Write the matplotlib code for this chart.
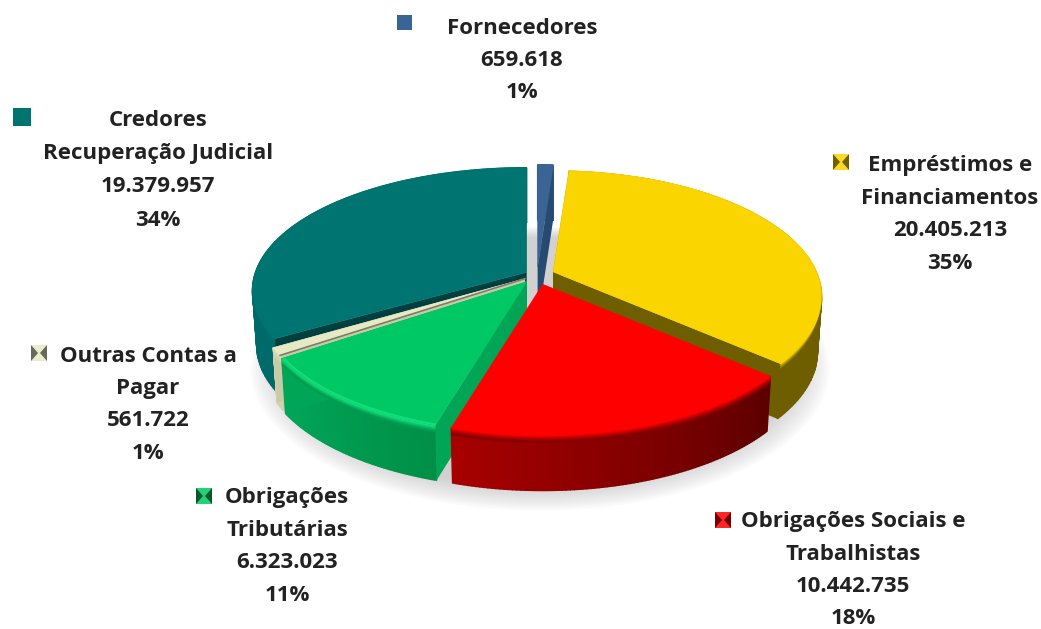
import matplotlib
matplotlib.use('Agg')
import matplotlib.pyplot as plt
import matplotlib.colors as mc
import numpy as np

# -- data --------------------------------------------------
categories = ['Fornecedores', 'Empréstimos e\nFinanciamentos', 'Obrigações Sociais e\nTrabalhistas',
              'Obrigações\nTributárias', 'Outras Contas a\nPagar', 'Credores\nRecuperação Judicial']
values = [659618, 20405213, 10442735, 6323023, 561722, 19379957]
explode = [0.066, 0.066, 0.078, 0.066, 0.054, 0.045]

# -- style per slice ---------------------------------------
top_c = ['#3a6494', '#fbd500', '#ff0000', '#00c864', '#e6e9c4', '#007470']
cut_c = ['#274a70', '#6e5e00', None, '#00a555', '#c8cba6', '#003f40']
wall_a = ['#2c5380', '#6e5e00', '#5c0000', '#008f47', '#d0d3ae', '#006a6a']  # clockwise start
wall_b = ['#2c5380', '#6e5e00', '#a80000', '#00a85a', '#d0d3ae', '#006a6a']  # clockwise end
rim_c = ['#3a6494', '#fbd500', '#ff0000', '#1cf088', '#e6e9c4', '#007470']

# label layout: x centre, first line y, line spacing, key x, key y, key size
label_x = [522, 950, 853, 287, 148, 158]
label_y = [29, 166, 522, 498, 356, 121]
label_dy = [32, 32.5, 32, 32.5, 32.5, 33]
key_x = [404, 841, 723, 204, 39, 22]
key_y = [22, 162, 520, 496, 353, 117]
key_s = [15, 16, 16, 16, 16, 18]

CX, CY = 537, 275
RX = [263, 263, 263, 263, 263, 271]
KR = [122, 121, 121, 121, 121, 120]
P = [0.2, 0.2, 0.2, 0.2, 0.2, 0.15]
DEPTH = 55
TAPER = 0.015
draw_order = [5, 4, 3, 0, 1, 2]

fig = plt.figure(figsize=(10.41, 6.29), dpi=100)
ax = fig.add_axes([0, 0, 1, 1])
ax.set_xlim(0, 1041)
ax.set_ylim(629, 0)
ax.axis('off')

total = sum(values)
edges = np.concatenate([[0], np.cumsum(values)]) / total * 2 * np.pi


def project(theta, ax0, ay0, r=1.0, z=0.0, rx=263, kr=124, p=0.2):
    s, c = np.sin(theta), np.cos(theta)
    w = 1 + p * c * r
    t = 1 - TAPER * z / DEPTH
    return ax0 + rx * r * s / w * t, ay0 - kr * r * c / w + z


def blend(a, b, f):
    a, b = np.array(mc.to_rgb(a)), np.array(mc.to_rgb(b))
    return tuple(a + (b - a) * f)


# soft shadow under the pie
th = np.linspace(0, 2 * np.pi, 240)
for i in range(14):
    sx, sy = project(th, CX + 3, CY + 8, r=1.09 - i * 0.009, z=DEPTH)
    ax.fill(sx, sy, color='#707070', alpha=0.025, lw=0, zorder=1)

z = 2
for i in draw_order:
    t0, t1 = edges[i], edges[i + 1]
    mid = (t0 + t1) / 2
    ax0 = CX + np.sin(mid) * explode[i] * 263
    ay0 = CY - np.cos(mid) * explode[i] * 124
    th = np.linspace(t0, t1, 90)
    kw = dict(rx=RX[i], kr=KR[i], p=P[i])

    # outer wall, split in strips for the gradient
    for k in range(len(th) - 1):
        x1, y1 = project(th[k:k + 2], ax0, ay0, **kw)
        x2, y2 = project(th[k:k + 2], ax0, ay0, z=DEPTH, **kw)
        col = blend(wall_a[i], wall_b[i], k / (len(th) - 2))
        ax.fill(np.r_[x1, x2[::-1]], np.r_[y1, y2[::-1]], color=col, ec=col, lw=1.0, zorder=z)
    z += 1

    # cut faces
    if cut_c[i]:
        for t in (t0, t1):
            ex, ey = project(t, ax0, ay0, **kw)
            bx, by = project(t, ax0, ay0, z=DEPTH, **kw)
            ax.fill([ax0, ex, bx, ax0], [ay0, ey, by, ay0 + DEPTH], color=cut_c[i], lw=0, zorder=z)
        z += 1

    # bevel along the rim, fading into the wall
    wall_mix = blend(wall_a[i], wall_b[i], 0.5)
    for n, f in enumerate(np.linspace(0, 1, 8)):
        x, y = project(th, ax0, ay0, z=n * 0.9, **kw)
        ax.plot(x, y, color=blend(rim_c[i], wall_mix, f), lw=1.3, solid_capstyle='butt', zorder=z)
    z += 1

    # top face
    x, y = project(th, ax0, ay0, **kw)
    ax.fill(np.r_[ax0, x], np.r_[ay0, y], color=top_c[i], ec=top_c[i], lw=0.4, zorder=z)
    z += 1

    if i == 3:
        x, y = project(th, ax0, ay0, r=0.995, **kw)
        ax.plot(x, y, color=rim_c[i], lw=1.5, alpha=0.6, solid_capstyle='butt', zorder=z)
        z += 1
    if i == 4:
        ex, ey = project(t0, ax0, ay0, **kw)
        ax.plot([ax0, ex], [ay0, ey], color='#7d7d6c', lw=1.2, zorder=z)
        z += 1

# labels and keys
for i, name in enumerate(categories):
    pct = f'{round(values[i] / total * 100)}%'
    lines = name.split('\n') + [f'{values[i]:,}'.replace(',', '.'), pct]
    for n, line in enumerate(lines):
        ax.text(label_x[i], label_y[i] + n * label_dy[i], line, ha='center', va='center',
                fontsize=16, family='Open Sans', fontweight='bold', color='#222222', zorder=200)
    kx, ky, h = key_x[i], key_y[i], key_s[i] / 2
    dark = blend(top_c[i], '#000000', 0.55)
    light = blend(top_c[i], '#ffffff', 0.15)
    if i in (0, 5):
        light = top_c[i]
    ax.fill([kx - h, kx + h, kx + h, kx - h], [ky - h, ky - h, ky + h, ky + h], color=light, lw=0, zorder=200)
    if i not in (0, 5):
        ax.fill([kx - h, kx - 1, kx - h], [ky - h, ky, ky + h], color=dark, lw=0, zorder=201)
        ax.fill([kx + h, kx + 1, kx + h], [ky - h, ky, ky + h], color=dark, lw=0, zorder=201)

fig.savefig('out.png', dpi=100, facecolor='white')
